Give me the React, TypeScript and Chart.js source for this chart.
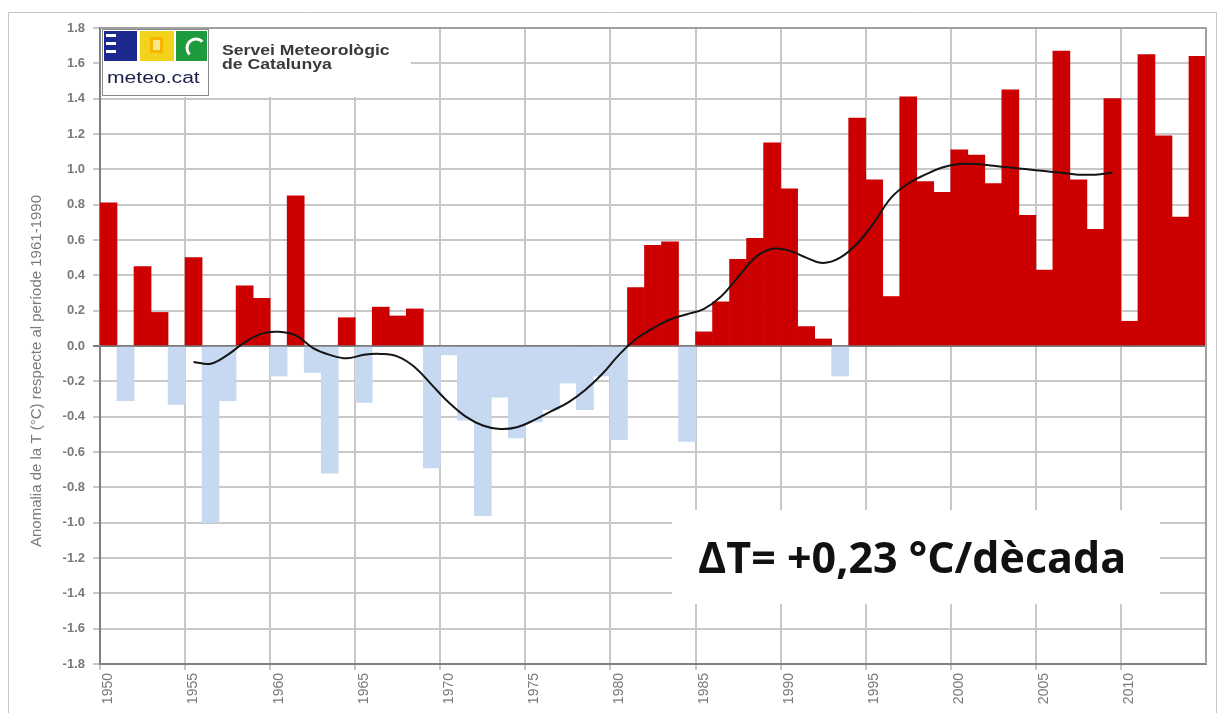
import React, { useEffect, useRef } from "react";
import { Chart, registerables } from "chart.js";

Chart.register(...registerables);

// Years (categories)
const years: number[] = [
  1950, 1951, 1952, 1953, 1954, 1955, 1956, 1957, 1958, 1959,
  1960, 1961, 1962, 1963, 1964, 1965, 1966, 1967, 1968, 1969,
  1970, 1971, 1972, 1973, 1974, 1975, 1976, 1977, 1978, 1979,
  1980, 1981, 1982, 1983, 1984, 1985, 1986, 1987, 1988, 1989,
  1990, 1991, 1992, 1993, 1994, 1995, 1996, 1997, 1998, 1999,
  2000, 2001, 2002, 2003, 2004, 2005, 2006, 2007, 2008, 2009,
  2010, 2011, 2012, 2013, 2014,
];

// Annual temperature anomaly (°C) relative to 1961-1990
const anomalies: number[] = [
  0.81, -0.31, 0.45, 0.19, -0.33, 0.50, -1.00, -0.31, 0.34, 0.27,
  -0.17, 0.85, -0.15, -0.72, 0.16, -0.32, 0.22, 0.17, 0.21, -0.69,
  -0.05, -0.42, -0.96, -0.29, -0.52, -0.43, -0.36, -0.21, -0.36, -0.17,
  -0.53, 0.33, 0.57, 0.59, -0.54, 0.08, 0.25, 0.49, 0.61, 1.15,
  0.89, 0.11, 0.04, -0.17, 1.29, 0.94, 0.28, 1.41, 0.93, 0.87,
  1.11, 1.08, 0.92, 1.45, 0.74, 0.43, 1.67, 0.94, 0.66, 1.40,
  0.14, 1.65, 1.19, 0.73, 1.64,
];

// Smoothed curve (filtered series), no values at both ends
const smoothed: (number | null)[] = [
  null, null, null, null, null, -0.09, -0.10, -0.05, 0.02, 0.07,
  0.08, 0.06, -0.01, -0.05, -0.07, -0.05, -0.045, -0.06, -0.12, -0.22,
  -0.32, -0.40, -0.45, -0.47, -0.46, -0.42, -0.37, -0.32, -0.25, -0.16,
  -0.05, 0.04, 0.10, 0.15, 0.18, 0.21, 0.28, 0.39, 0.50, 0.55,
  0.54, 0.50, 0.47, 0.50, 0.58, 0.70, 0.84, 0.92, 0.97, 1.01,
  1.03, 1.03, 1.02, 1.01, 1.00, 0.99, 0.98, 0.97, 0.97, 0.98,
  null, null, null, null, null,
];

const yMin = -1.8;
const yMax = 1.8;
const yStep = 0.2;
const labelEvery = 5;

const yTitle = "Anomalia de la T (°C) respecte al període 1961-1990";
const trendText = "ΔT= +0,23 °C/dècada";
const orgLine1 = "Servei Meteorològic";
const orgLine2 = "de Catalunya";
const logoText = "meteo.cat";

const POS_COLOR = "#CC0000";
const NEG_COLOR = "#C6D9F1";

const decorPlugin = {
  id: "decor",
  afterDraw(chart: any) {
    const ctx: CanvasRenderingContext2D = chart.ctx;
    const { left, top, right, bottom } = chart.chartArea;
    ctx.save();

    // outer frame
    ctx.strokeStyle = "#c4c4c4";
    ctx.lineWidth = 1;
    ctx.beginPath();
    ctx.moveTo(8.5, 713);
    ctx.lineTo(8.5, 12.5);
    ctx.lineTo(1216.5, 12.5);
    ctx.lineTo(1216.5, 713);
    ctx.stroke();

    // plot border top & right
    ctx.strokeStyle = "#a0a0a0";
    ctx.lineWidth = 2;
    ctx.beginPath();
    ctx.moveTo(left, top);
    ctx.lineTo(right, top);
    ctx.lineTo(right, bottom);
    ctx.stroke();

    // y axis title
    ctx.save();
    ctx.translate(37, 371);
    ctx.rotate(-Math.PI / 2);
    ctx.font = "15px 'Liberation Sans', Arial, sans-serif";
    ctx.fillStyle = "#7a7a7a";
    ctx.textAlign = "center";
    ctx.textBaseline = "middle";
    ctx.fillText(yTitle, 0, 0);
    ctx.restore();

    // logo block
    ctx.fillStyle = "#ffffff";
    ctx.fillRect(left + 1, top + 1, 310, 68);
    ctx.strokeStyle = "#8a8a8a";
    ctx.lineWidth = 1;
    ctx.strokeRect(left + 2.5, top + 1.5, 106, 66);
    // blue
    ctx.fillStyle = "#1b2a8c";
    ctx.fillRect(left + 4, top + 3, 33, 30);
    ctx.fillStyle = "#ffffff";
    for (let k = 0; k < 3; k++) ctx.fillRect(left + 6, top + 6 + k * 8, 10, 3);
    // yellow
    ctx.fillStyle = "#f2d21a";
    ctx.fillRect(left + 40, top + 3, 34, 30);
    ctx.fillStyle = "#f7b500";
    ctx.fillRect(left + 50, top + 9, 13, 16);
    ctx.fillStyle = "#f8e88a";
    ctx.fillRect(left + 53, top + 12, 7, 10);
    // green
    ctx.fillStyle = "#1e9b3c";
    ctx.fillRect(left + 76, top + 3, 31, 30);
    ctx.strokeStyle = "#ffffff";
    ctx.lineWidth = 3;
    ctx.beginPath();
    ctx.arc(left + 96, top + 20, 9, Math.PI * 0.75, Math.PI * 1.75);
    ctx.stroke();
    // meteo.cat
    ctx.save();
    ctx.translate(left + 7, top + 55);
    ctx.scale(1.32, 1);
    ctx.font = "16px 'Liberation Sans', Arial, sans-serif";
    ctx.fillStyle = "#1a1f4a";
    ctx.textBaseline = "alphabetic";
    ctx.fillText(logoText, 0, 0);
    ctx.restore();
    // org name
    ctx.save();
    ctx.translate(left + 122, top + 27);
    ctx.scale(1.26, 1);
    ctx.font = "bold 14px 'Liberation Sans', Arial, sans-serif";
    ctx.fillStyle = "#3a3a3a";
    ctx.fillText(orgLine1, 0, 0);
    ctx.fillText(orgLine2, 0, 14);
    ctx.restore();

    // trend annotation
    ctx.fillStyle = "#ffffff";
    ctx.fillRect(672, 510, 488, 94);
    ctx.font = "bold 43px 'Open Sans', 'Liberation Sans', sans-serif";
    ctx.fillStyle = "#111111";
    ctx.textBaseline = "alphabetic";
    ctx.textAlign = "left";
    ctx.fillText(trendText, 698, 573);

    ctx.restore();
  },
};

export default function App() {
  const canvasRef = useRef<HTMLCanvasElement | null>(null);

  useEffect(() => {
    document.body.style.margin = "0";
    const canvas = canvasRef.current;
    if (!canvas) return;
    const chart = new Chart(canvas, {
      type: "bar",
      data: {
        labels: years.map(String),
        datasets: [
          {
            type: "line",
            data: smoothed,
            borderColor: "#151515",
            borderWidth: 2,
            pointRadius: 0,
            tension: 0.4,
            fill: false,
            spanGaps: false,
            order: 0,
          } as any,
          {
            type: "bar",
            data: anomalies,
            backgroundColor: anomalies.map((v) => (v >= 0 ? POS_COLOR : NEG_COLOR)),
            borderWidth: 0,
            barPercentage: 1,
            categoryPercentage: 1,
            order: 1,
          } as any,
        ],
      },
      options: {
        responsive: false,
        animation: false,
        devicePixelRatio: 1,
        layout: { padding: { left: 0, right: 14, top: 28, bottom: 0 } },
        plugins: {
          legend: { display: false },
          tooltip: { enabled: false },
        },
        scales: {
          x: {
            afterFit: (s: any) => {
              s.height = 49;
            },
            grid: {
              offset: true,
              color: (c: any) => (c.index % labelEvery === 0 ? "#c8c8c8" : "rgba(0,0,0,0)"),
              lineWidth: 2,
              tickLength: 6,
            },
            border: { display: true, color: "#808080", width: 2 },
            ticks: {
              autoSkip: false,
              minRotation: 90,
              maxRotation: 90,
              padding: 3,
              color: "#7a7a7a",
              font: { size: 14, family: "'Liberation Sans', Arial, sans-serif" },
              callback: (_v: any, i: number) => (i % labelEvery === 0 ? String(years[i]) : ""),
            },
          },
          y: {
            min: yMin,
            max: yMax,
            afterFit: (s: any) => {
              s.width = 100;
            },
            grid: {
              color: (c: any) => (c.tick && Math.abs(c.tick.value) < 1e-9 ? "#7a7a7a" : "#c8c8c8"),
              lineWidth: (c: any) => (c.tick && Math.abs(c.tick.value) < 1e-9 ? 2 : 2),
              tickLength: 7,
            },
            border: { display: true, color: "#808080", width: 2 },
            ticks: {
              stepSize: yStep,
              padding: 8,
              color: "#7a7a7a",
              font: { size: 13, weight: "bold", family: "'Liberation Sans', Arial, sans-serif" },
              callback: (v: any) => {
                const n = Number(v);
                return Math.abs(n) < 1e-9 ? "0.0" : n.toFixed(1);
              },
            },
          },
        },
      },
      plugins: [decorPlugin],
    });
    return () => chart.destroy();
  }, []);

  return (
    <div style={{ width: 1220, height: 713, position: "relative", background: "#fff" }}>
      <canvas ref={canvasRef} width={1220} height={713} style={{ display: "block" }} />
    </div>
  );
}
